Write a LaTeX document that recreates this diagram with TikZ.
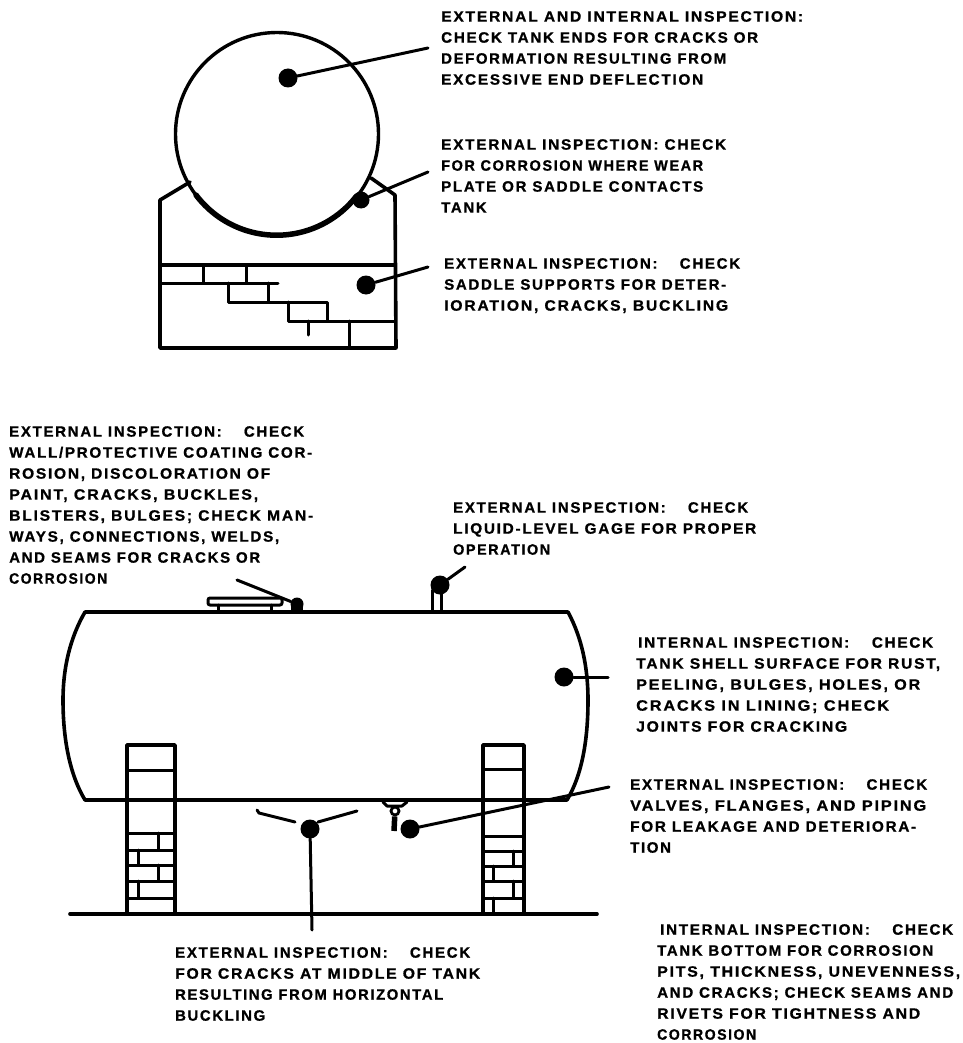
\documentclass[tikz,border=0pt]{standalone}
\usepackage{graphicx}
\usepackage{fontspec}
\setmainfont{Liberation Sans}[BoldFont={Liberation Sans Bold},BoldFeatures={FakeBold=0.9},LetterSpace=11]
\newcommand{\LL}[2]{\resizebox{#1pt}{\height}{#2}}
\newcommand{\dgap}{\hspace{22pt}}
\tikzset{
 x=1pt,y=-1pt,
 lbl/.style={anchor=north west,inner sep=0pt,align=left,font=\fontsize{15}{21}\selectfont\bfseries,text=black},
 ink/.style={draw=black,line width=3.6pt,line cap=round,line join=round},
 thin ink/.style={draw=black,line width=3pt,line cap=round,line join=round},
 lead/.style={draw=black,line width=3pt,line cap=round},
 dot/.style={circle,fill=black,inner sep=0pt,minimum size=#1},
 dot/.default=19pt,
}
\begin{document}
\begin{tikzpicture}
\useasboundingbox (0,0) rectangle (962,1043);
% ----- end view
\node[circle,draw=black,line width=3.4pt,minimum size=203pt,inner sep=0pt] (tank) at (277,134) {};
\draw[black,line width=5.5pt,line cap=round] (196,195) arc[start angle=143,end angle=38,radius=101];
\draw[ink] (190,182) -- (160,200) -- (160,348) -- (396,348) -- (395,195) -- (371,178);
\draw[ink] (160,265) -- (395,265);
\draw[thin ink] (160,283) -- (278,283) (203,265) -- (203,283) (246,265) -- (246,283);
\draw[thin ink] (228,283) -- (228,302) -- (327,302) -- (327,321) (268,283) -- (268,302);
\draw[thin ink] (288,302) -- (288,321) -- (395,321) (308,321) -- (308,335) (349,321) -- (349,348);
\node[dot] (d1) at (288,78) {};
\node[dot=17pt] (d2) at (361,200) {};
\node[dot] (d3) at (366,285) {};
\coordinate (e1) at (428,48);
\coordinate (e2) at (428,172);
\coordinate (e3) at (428,267);
\draw[lead] (d1) -- (e1);
\draw[lead] (d2) -- (e2);
\draw[lead] (d3) -- (e3);
% ----- side view: shell
\draw[ink] (85,612) -- (568,612) .. controls (582,638) and (588,668) .. (588,700) .. controls (588,740) and (582,775) .. (567,800) -- (85,800) .. controls (70,775) and (63,740) .. (63,700) .. controls (63,668) and (70,638) .. (85,612) -- cycle;
\draw[ink] (70,914) -- (597,914);
% manway
\draw[thin ink,rounded corners=2pt] (208,598) rectangle (282,605);
\draw[thin ink] (218,605) -- (218,612) (271,605) -- (271,612);
\node[dot=13pt] (d4) at (297,604) {};
\fill[black] (291,604) rectangle (303,612);
\coordinate (e4) at (237,580);
\draw[lead] (d4) -- (e4);
% gage
\draw[thin ink] (432,612) -- (432,590) (441,612) -- (441,592);
\node[dot] (d5) at (440,585) {};
\coordinate (e5) at (465,567);
\draw[lead] (d5) -- (e5);
% shell dot
\node[dot] (d6) at (564,677) {};
\coordinate (e6) at (608,677);
\draw[lead] (d6) -- (e6);
% left pier
\draw[ink] (127,913) -- (127,745) -- (175,745) -- (175,913);
\draw[thin ink] (127,770) -- (175,770) (127,833) -- (175,833) (127,850) -- (175,850) (127,865) -- (175,865) (127,881) -- (175,881) (127,898) -- (175,898);
\draw[thin ink] (158,833) -- (158,850) (138,850) -- (138,865) (158,865) -- (158,881) (138,881) -- (138,898);
% right pier
\draw[ink] (483,913) -- (483,745) -- (524,745) -- (524,913);
\draw[thin ink] (483,769) -- (524,769) (483,836) -- (524,836) (483,851) -- (524,851) (483,866) -- (524,866) (483,881) -- (524,881) (483,898) -- (524,898);
\draw[thin ink] (513,851) -- (513,866) (493,866) -- (493,881) (513,881) -- (513,898) (493,898) -- (493,913);
% sag marks
\draw[lead] (257,810) -- (259,813) -- (295,822);
\draw[lead] (318,822) -- (357,811);
\node[dot] (d7) at (310,829) {};
\coordinate (e7) at (312,930);
\draw[lead] (d7) -- (e7);
% valve
\draw[thin ink] (383,802) -- (387,806) -- (402,806) -- (407,802);
\node[circle,draw=black,line width=2.8pt,minimum size=8pt,inner sep=0pt] (vv) at (395,811) {};
\draw[black,line width=5.5pt] (vv) -- ++(-1,20);
\node[dot] (d8) at (410,829) {};
\coordinate (e8) at (609,787);
\draw[lead] (d8) -- (e8);
% ----- labels
\node[lbl] (t1) at (441,11) {\LL{362}{EXTERNAL AND INTERNAL INSPECTION:}\\\LL{317}{CHECK TANK ENDS FOR CRACKS OR}\\\LL{285}{DEFORMATION RESULTING FROM}\\\LL{262}{EXCESSIVE END DEFLECTION}};
\node[lbl] (t2) at (441,139) {\LL{285}{EXTERNAL INSPECTION: CHECK}\\\LL{262}{FOR CORROSION WHERE WEAR}\\\LL{262}{PLATE OR SADDLE CONTACTS}\\TANK};
\node[lbl] (t3) at (444,258) {\LL{296}{EXTERNAL INSPECTION:\dgap CHECK}\\\LL{282}{SADDLE SUPPORTS FOR DETER-}\\\LL{284}{IORATION, CRACKS, BUCKLING}};
\node[lbl] (t4) at (9,426) {\LL{295}{EXTERNAL INSPECTION:\dgap CHECK}\\\LL{303}{WALL/PROTECTIVE COATING COR-}\\\LL{261}{ROSION, DISCOLORATION OF}\\\LL{249}{PAINT, CRACKS, BUCKLES,}\\\LL{304}{BLISTERS, BULGES; CHECK MAN-}\\\LL{270}{WAYS, CONNECTIONS, WELDS,}\\\LL{251}{AND SEAMS FOR CRACKS OR}\\\LL{98}{CORROSION}};
\node[lbl] (t5) at (453,502) {\LL{295}{EXTERNAL INSPECTION:\dgap CHECK}\\\LL{303}{LIQUID-LEVEL GAGE FOR PROPER}\\\LL{97}{OPERATION}};
\node[lbl] (t6) at (636,637) {\hspace{2pt}\LL{295}{INTERNAL INSPECTION:\dgap CHECK}\\\LL{304}{TANK SHELL SURFACE FOR RUST,}\\\LL{284}{PEELING, BULGES, HOLES, OR}\\\LL{253}{CRACKS IN LINING; CHECK}\\\LL{211}{JOINTS FOR CRACKING}};
\node[lbl] (t7) at (630,779) {\LL{297}{EXTERNAL INSPECTION:\dgap CHECK}\\\LL{296}{VALVES, FLANGES, AND PIPING}\\\LL{286}{FOR LEAKAGE AND DETERIORA-}\\TION};
\node[lbl] (t8) at (175,947) {\LL{295}{EXTERNAL INSPECTION:\dgap CHECK}\\\LL{305}{FOR CRACKS AT MIDDLE OF TANK}\\\LL{268}{RESULTING FROM HORIZONTAL}\\\LL{90}{BUCKLING}};
\node[lbl] (t9) at (657,924) {\hspace{3pt}\LL{293}{INTERNAL INSPECTION:\dgap CHECK}\\\LL{276}{TANK BOTTOM FOR CORROSION}\\\LL{303}{PITS, THICKNESS, UNEVENNESS,}\\\LL{296}{AND CRACKS; CHECK SEAMS AND}\\\LL{263}{RIVETS FOR TIGHTNESS AND}\\\LL{99}{CORROSION}};
\end{tikzpicture}
\end{document}
